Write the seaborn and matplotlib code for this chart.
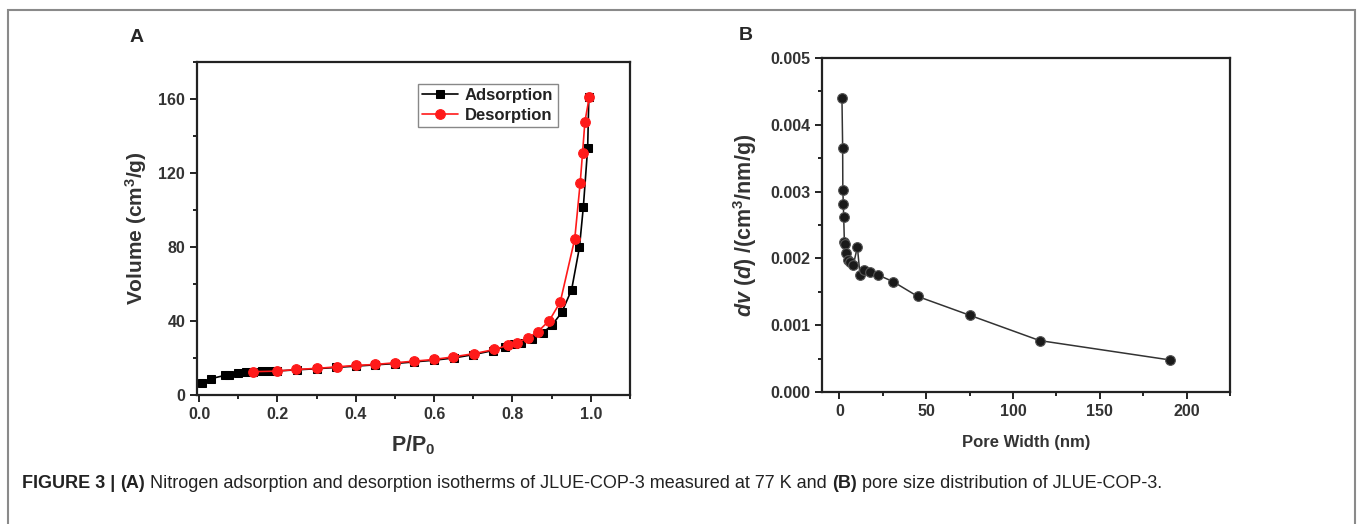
import numpy as np
import pandas as pd
import seaborn as sns
import matplotlib.pyplot as plt
from matplotlib.patches import Rectangle
from matplotlib.ticker import MultipleLocator

# Panel A: N2 isotherm (P/P0 vs volume cm3/g)
ads_p = [0.007, 0.03, 0.066, 0.076, 0.10, 0.119, 0.138, 0.16, 0.18, 0.20, 0.25, 0.30,
         0.35, 0.40, 0.45, 0.50, 0.55, 0.60, 0.65, 0.70, 0.75, 0.78, 0.805, 0.822,
         0.851, 0.877, 0.902, 0.926, 0.951, 0.971, 0.981, 0.992, 0.995]
ads_v = [6.6, 8.8, 10.6, 10.8, 11.7, 12.4, 12.6, 12.7, 12.9, 13.0, 13.6, 14.2,
         14.9, 15.6, 16.3, 17.0, 17.9, 18.8, 20.0, 21.8, 24.0, 26.0, 27.3, 28.2,
         30.5, 33.5, 38.0, 44.7, 56.9, 79.8, 101.7, 133.5, 161.0]
des_p = [0.996, 0.985, 0.979, 0.973, 0.959, 0.922, 0.894, 0.864, 0.839, 0.812,
         0.788, 0.754, 0.703, 0.649, 0.599, 0.55, 0.499, 0.45, 0.40, 0.351,
         0.302, 0.248, 0.198, 0.138]
des_v = [160.9, 147.8, 131.0, 114.8, 84.3, 50.2, 40.2, 34.1, 30.9, 28.2,
         26.9, 24.6, 22.4, 20.6, 19.2, 18.3, 17.4, 16.5, 16.0, 15.2,
         14.4, 13.8, 12.9, 12.6]

# Panel B: pore size distribution
pore_w = [1.5, 1.9, 2.0, 2.3, 2.5, 2.9, 3.3, 3.8, 4.8, 6.1, 8.0, 10.4, 11.9,
          14.4, 17.7, 22.5, 31.1, 45.2, 75.0, 115.4, 190.4]
pore_dv = [0.00440, 0.00366, 0.00303, 0.00281, 0.00262, 0.00224, 0.00222, 0.00208,
           0.00198, 0.00194, 0.00190, 0.00217, 0.00175, 0.00183, 0.00179, 0.00175,
           0.00165, 0.00143, 0.00115, 0.00077, 0.00048]

sns.set_style("ticks")
plt.rcParams['font.family'] = ['Liberation Sans', 'DejaVu Sans']
plt.rcParams['mathtext.fontset'] = 'custom'
plt.rcParams['mathtext.rm'] = 'Liberation Sans:bold'
plt.rcParams['mathtext.it'] = 'Liberation Sans:bold:italic'
plt.rcParams['mathtext.bf'] = 'Liberation Sans:bold'

fig = plt.figure(figsize=(13.58, 5.24), dpi=100)
fig.patch.set_facecolor('white')

# outer frame (bottom edge falls off the picture)
frame_top = 1 - 10 / 524
fig.add_artist(Rectangle((0.0059, -0.05), 0.9919, frame_top + 0.05,
                         transform=fig.transFigure, fill=False,
                         edgecolor='#8a8a8a', lw=1.5))

tick_col = '#333333'


def style_axes(ax, fs):
    for s in ax.spines.values():
        s.set_linewidth(1.6)
        s.set_color('#222222')
        s.set_visible(True)
    ax.tick_params(which='both', direction='out', top=False, right=False,
                   width=1.4, color='#222222', labelcolor=tick_col,
                   labelsize=fs)
    ax.tick_params(which='major', length=5)
    ax.tick_params(which='minor', length=3)
    for lab in ax.get_xticklabels() + ax.get_yticklabels():
        lab.set_fontweight('bold')
    ax.grid(False)


# ---- Panel A ----
axA = fig.add_axes([0.1451, 0.2462, 0.3188, 0.6355])
ads = pd.DataFrame({'p': ads_p, 'v': ads_v})
des = pd.DataFrame({'p': des_p, 'v': des_v})
sns.lineplot(data=ads, x='p', y='v', ax=axA, color='black', marker='s',
             markersize=6, markeredgecolor='black', lw=1.2, label='Adsorption')
sns.lineplot(data=des, x='p', y='v', ax=axA, color='#ff1a1a', marker='o',
             markersize=7, markeredgecolor='#ff1a1a', lw=1.2, label='Desorption')
axA.set_xlim(-0.005, 1.1)
axA.set_ylim(0, 180)
axA.xaxis.set_major_locator(MultipleLocator(0.2))
axA.xaxis.set_minor_locator(MultipleLocator(0.1))
axA.yaxis.set_major_locator(MultipleLocator(40))
axA.yaxis.set_minor_locator(MultipleLocator(20))
axA.set_xticks([0, 0.2, 0.4, 0.6, 0.8, 1.0])
axA.set_xticklabels(['0.0', '0.2', '0.4', '0.6', '0.8', '1.0'])
style_axes(axA, 11.5)
axA.set_xlabel(r'P/P$_0$', fontsize=15.5, fontweight='bold', color=tick_col, labelpad=8)
axA.set_ylabel(r'Volume (cm$^3$/g)', fontsize=15, fontweight='bold', color=tick_col, labelpad=7)
leg = axA.legend(loc='upper left', bbox_to_anchor=(0.49, 0.96), frameon=True,
                 fancybox=False, edgecolor='#888888', framealpha=1,
                 prop={'weight': 'bold', 'size': 12}, handlelength=2.2,
                 handletextpad=0.4, borderpad=0.25, labelspacing=0.3)
leg.get_frame().set_linewidth(1.0)
for t in leg.get_texts():
    t.set_color('#222222')

# ---- Panel B ----
axB = fig.add_axes([0.6053, 0.2519, 0.3004, 0.6374])
psd = pd.DataFrame({'w': pore_w, 'dv': pore_dv})
sns.lineplot(data=psd, x='w', y='dv', ax=axB, color='#333333', lw=1.1,
             marker='o', markersize=7, markerfacecolor='#1a1a1a',
             markeredgecolor='#555555', markeredgewidth=0.8)
axB.set_xlim(-10, 225)
axB.set_ylim(0, 0.005)
axB.xaxis.set_major_locator(MultipleLocator(50))
axB.xaxis.set_minor_locator(MultipleLocator(25))
axB.yaxis.set_major_locator(MultipleLocator(0.001))
axB.yaxis.set_minor_locator(MultipleLocator(0.0005))
axB.set_yticks([0, 0.001, 0.002, 0.003, 0.004, 0.005])
axB.set_yticklabels(['0.000', '0.001', '0.002', '0.003', '0.004', '0.005'])
style_axes(axB, 11.5)
axB.set_xlabel('Pore Width (nm)', fontsize=12, fontweight='bold', color=tick_col, labelpad=12)
axB.set_ylabel(r'$\mathit{dv}$ ($\mathit{d}$) /(cm$^3$/nm/g)', fontsize=15.5,
               fontweight='bold', color=tick_col, labelpad=8)

# panel letters
fig.text(137 / 1358, 1 - 37 / 524, 'A', fontsize=14, fontweight='bold',
         ha='center', va='center')
fig.text(746 / 1358, 1 - 35 / 524, 'B', fontsize=14, fontweight='bold',
         ha='center', va='center')

# caption with mixed bold/regular pieces placed in sequence
pieces = [('FIGURE 3 | ', 'bold'), ('(A)', 'bold'),
          (' Nitrogen adsorption and desorption isotherms of JLUE-COP-3 measured at 77 K and ', 'normal'),
          ('(B)', 'bold'), (' pore size distribution of JLUE-COP-3.', 'normal')]
fig.canvas.draw()
renderer = fig.canvas.get_renderer()
x = 22 / 1358
y = 1 - 483 / 524
for txt, wt in pieces:
    t = fig.text(x, y, txt, fontsize=13, fontweight=wt,
                 color='#222222', ha='left', va='center')
    bb = t.get_window_extent(renderer=renderer)
    x += bb.width / fig.bbox.width

fig.savefig('out.png', dpi=100, facecolor='white')
